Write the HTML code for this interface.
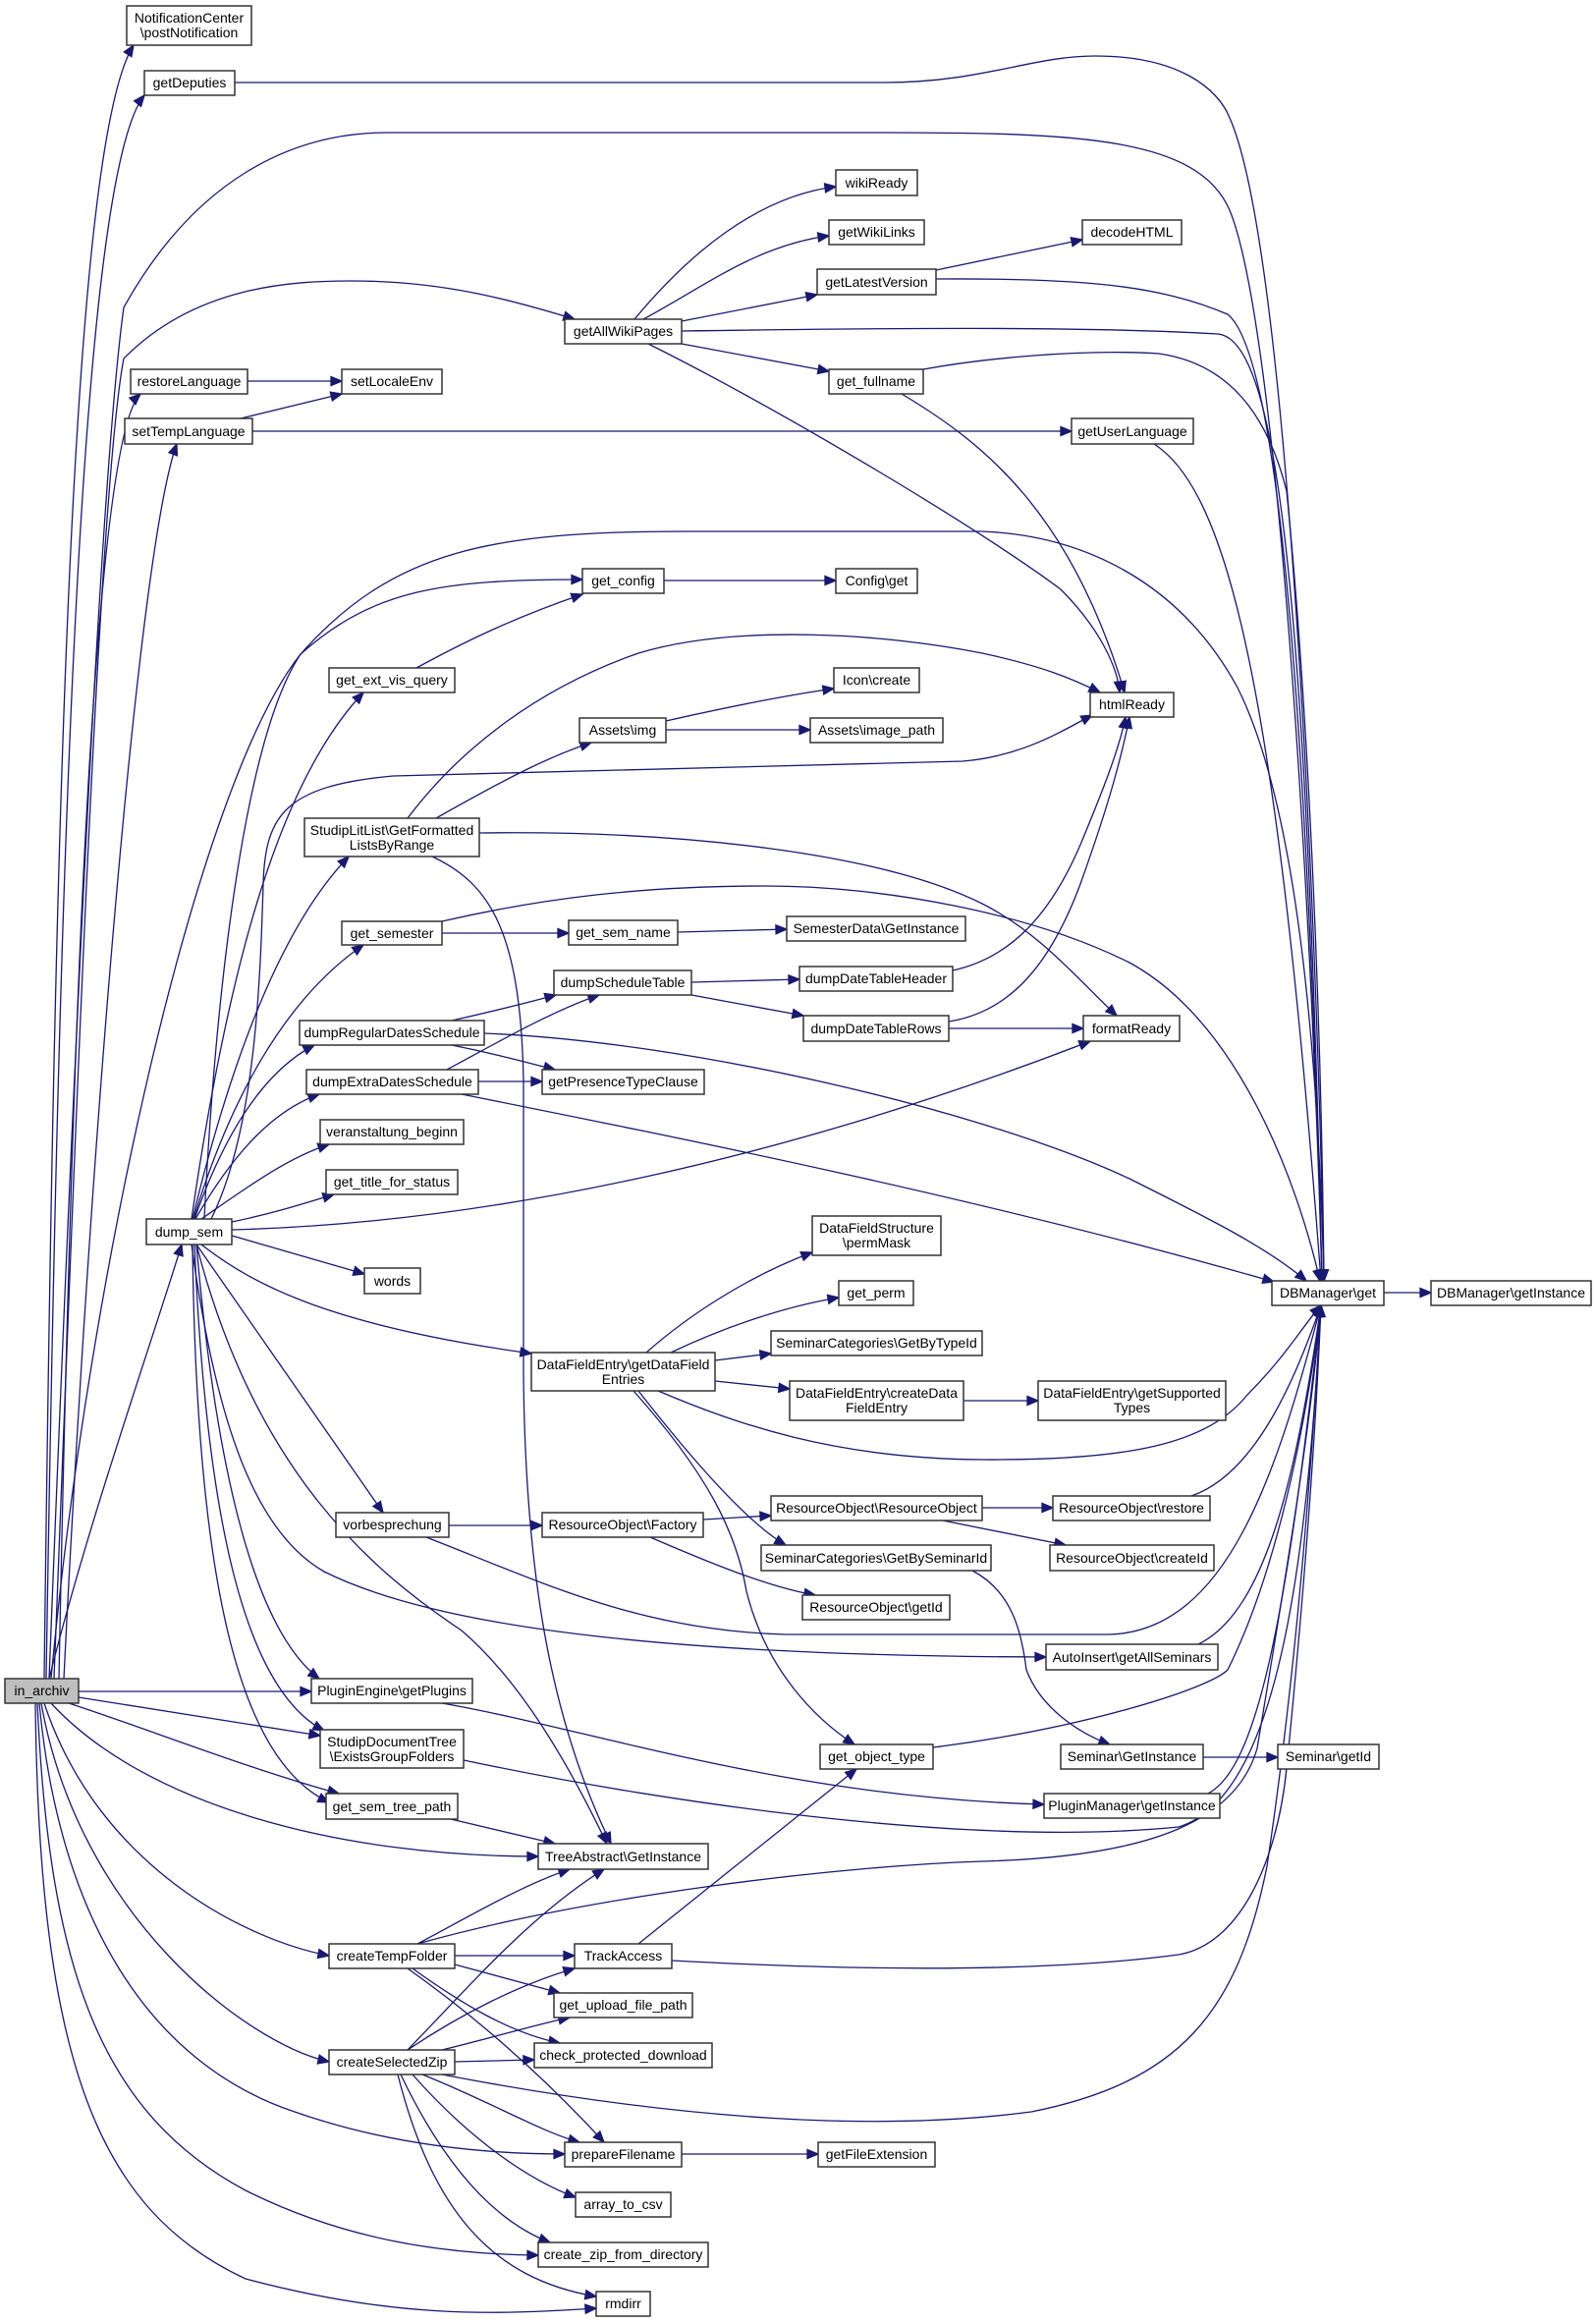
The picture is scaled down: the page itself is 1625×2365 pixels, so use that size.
<!DOCTYPE html>
<html><head><meta charset="utf-8"><style>
html,body{margin:0;padding:0;background:#fff}
svg{display:block}
svg text{font-family:"Liberation Sans",Arial,sans-serif;font-size:14px;fill:#000;text-anchor:middle}
svg rect{fill:#fff;stroke:#333;stroke-width:1.5}
</style></head><body>
<svg id="g" width="1625" height="2365" viewBox="0 0 1625 2365" xmlns="http://www.w3.org/2000/svg">
<g id="edges" fill="none" stroke="#191970" stroke-width="1.3"></g>
<g id="nodes">
<rect x="5" y="1709" width="75" height="25" style="fill:#bfbfbf"/><text x="42.5" y="1726">in_archiv</text>
<rect x="129" y="6" width="127" height="40"/><text x="192.5" y="23">NotificationCenter</text><text x="192.5" y="38">\postNotification</text>
<rect x="147" y="72" width="92" height="25"/><text x="193" y="89">getDeputies</text>
<rect x="133" y="376" width="119" height="25"/><text x="192.5" y="393">restoreLanguage</text>
<rect x="348" y="376" width="102" height="25"/><text x="399" y="393">setLocaleEnv</text>
<rect x="127" y="426" width="130" height="26"/><text x="192" y="444">setTempLanguage</text>
<rect x="575" y="325" width="119" height="25"/><text x="634.5" y="342">getAllWikiPages</text>
<rect x="851" y="173" width="83" height="26"/><text x="892.5" y="191">wikiReady</text>
<rect x="844" y="224" width="97" height="25"/><text x="892.5" y="241">getWikiLinks</text>
<rect x="832" y="274" width="121" height="26"/><text x="892.5" y="292">getLatestVersion</text>
<rect x="844" y="376" width="96" height="25"/><text x="892" y="393">get_fullname</text>
<rect x="1102" y="224" width="101" height="25"/><text x="1152.5" y="241">decodeHTML</text>
<rect x="1091" y="426" width="124" height="26"/><text x="1153" y="444">getUserLanguage</text>
<rect x="593" y="579" width="83" height="25"/><text x="634.5" y="596">get_config</text>
<rect x="851" y="579" width="83" height="25"/><text x="892.5" y="596">Config\get</text>
<rect x="335" y="680" width="128" height="25"/><text x="399" y="697">get_ext_vis_query</text>
<rect x="849" y="680" width="87" height="25"/><text x="892.5" y="697">Icon\create</text>
<rect x="1110" y="705" width="85" height="25"/><text x="1152.5" y="722">htmlReady</text>
<rect x="590" y="731" width="88" height="25"/><text x="634" y="748">Assets\img</text>
<rect x="825" y="731" width="135" height="25"/><text x="892.5" y="748">Assets\image_path</text>
<rect x="310" y="833" width="178" height="39"/><text x="399" y="850">StudipLitList\GetFormatted</text><text x="399" y="865">ListsByRange</text>
<rect x="348" y="938" width="102" height="24"/><text x="399" y="955">get_semester</text>
<rect x="579" y="937" width="111" height="25"/><text x="634.5" y="954">get_sem_name</text>
<rect x="801" y="933" width="182" height="25"/><text x="892" y="950">SemesterData\GetInstance</text>
<rect x="564" y="988" width="140" height="25"/><text x="634" y="1005">dumpScheduleTable</text>
<rect x="814" y="984" width="156" height="25"/><text x="892" y="1001">dumpDateTableHeader</text>
<rect x="305" y="1039" width="188" height="25"/><text x="399" y="1056">dumpRegularDatesSchedule</text>
<rect x="818" y="1034" width="148" height="26"/><text x="892" y="1052">dumpDateTableRows</text>
<rect x="1103" y="1034" width="98" height="26"/><text x="1152" y="1052">formatReady</text>
<rect x="552" y="1089" width="165" height="25"/><text x="634.5" y="1106">getPresenceTypeClause</text>
<rect x="312" y="1089" width="175" height="25"/><text x="399.5" y="1106">dumpExtraDatesSchedule</text>
<rect x="326" y="1140" width="146" height="25"/><text x="399" y="1157">veranstaltung_beginn</text>
<rect x="332" y="1191" width="134" height="25"/><text x="399" y="1208">get_title_for_status</text>
<rect x="149" y="1241" width="87" height="26"/><text x="192.5" y="1259">dump_sem</text>
<rect x="371" y="1291" width="57" height="26"/><text x="399.5" y="1309">words</text>
<rect x="827" y="1238" width="131" height="40"/><text x="892.5" y="1255">DataFieldStructure</text><text x="892.5" y="1270">\permMask</text>
<rect x="854" y="1304" width="76" height="25"/><text x="892" y="1321">get_perm</text>
<rect x="1295" y="1304" width="114" height="25"/><text x="1352" y="1321">DBManager\get</text>
<rect x="1457" y="1304" width="163" height="25"/><text x="1538.5" y="1321">DBManager\getInstance</text>
<rect x="785" y="1355" width="215" height="25"/><text x="892.5" y="1372">SeminarCategories\GetByTypeId</text>
<rect x="541" y="1377" width="187" height="39"/><text x="634.5" y="1394">DataFieldEntry\getDataField</text><text x="634.5" y="1409">Entries</text>
<rect x="804" y="1406" width="177" height="40"/><text x="892.5" y="1423">DataFieldEntry\createData</text><text x="892.5" y="1438">FieldEntry</text>
<rect x="1057" y="1406" width="191" height="40"/><text x="1152.5" y="1423">DataFieldEntry\getSupported</text><text x="1152.5" y="1438">Types</text>
<rect x="785" y="1523" width="215" height="25"/><text x="892.5" y="1540">ResourceObject\ResourceObject</text>
<rect x="1072" y="1523" width="160" height="25"/><text x="1152" y="1540">ResourceObject\restore</text>
<rect x="342" y="1540" width="115" height="25"/><text x="399.5" y="1557">vorbesprechung</text>
<rect x="552" y="1540" width="164" height="25"/><text x="634" y="1557">ResourceObject\Factory</text>
<rect x="775" y="1573" width="234" height="26"/><text x="892" y="1591">SeminarCategories\GetBySeminarId</text>
<rect x="1069" y="1573" width="167" height="26"/><text x="1152.5" y="1591">ResourceObject\createId</text>
<rect x="817" y="1624" width="150" height="25"/><text x="892" y="1641">ResourceObject\getId</text>
<rect x="1065" y="1674" width="175" height="26"/><text x="1152.5" y="1692">AutoInsert\getAllSeminars</text>
<rect x="317" y="1709" width="164" height="25"/><text x="399" y="1726">PluginEngine\getPlugins</text>
<rect x="326" y="1761" width="146" height="39"/><text x="399" y="1778">StudipDocumentTree</text><text x="399" y="1793">\ExistsGroupFolders</text>
<rect x="835" y="1776" width="115" height="25"/><text x="892.5" y="1793">get_object_type</text>
<rect x="1080" y="1776" width="145" height="25"/><text x="1152.5" y="1793">Seminar\GetInstance</text>
<rect x="1301" y="1776" width="103" height="25"/><text x="1352.5" y="1793">Seminar\getId</text>
<rect x="332" y="1826" width="134" height="26"/><text x="399" y="1844">get_sem_tree_path</text>
<rect x="1063" y="1826" width="179" height="25"/><text x="1152.5" y="1843">PluginManager\getInstance</text>
<rect x="548" y="1877" width="173" height="26"/><text x="634.5" y="1895">TreeAbstract\GetInstance</text>
<rect x="335" y="1979" width="128" height="25"/><text x="399" y="1996">createTempFolder</text>
<rect x="585" y="1979" width="99" height="25"/><text x="634.5" y="1996">TrackAccess</text>
<rect x="564" y="2029" width="141" height="25"/><text x="634.5" y="2046">get_upload_file_path</text>
<rect x="544" y="2080" width="181" height="25"/><text x="634.5" y="2097">check_protected_download</text>
<rect x="335" y="2087" width="128" height="25"/><text x="399" y="2104">createSelectedZip</text>
<rect x="575" y="2181" width="119" height="25"/><text x="634.5" y="2198">prepareFilename</text>
<rect x="833" y="2181" width="119" height="25"/><text x="892.5" y="2198">getFileExtension</text>
<rect x="586" y="2232" width="97" height="25"/><text x="634.5" y="2249">array_to_csv</text>
<rect x="548" y="2283" width="173" height="25"/><text x="634.5" y="2300">create_zip_from_directory</text>
<rect x="607" y="2333" width="55" height="25"/><text x="634.5" y="2350">rmdirr</text>
</g>
</svg>
<script>
var E=[
"M45,1709 C55,900 70,150 136,46",
"M47,1709 C60,900 80,180 147,97",
"M239,84 L900,84 C1000,84 1050,57 1115,57 C1200,57 1240,90 1252,120 C1310,250 1340,900 1348,1304",
"M50,1709 C70,1200 100,500 126,313 C200,180 300,135 394,135 L900,135 C1100,135 1220,140 1252,214 C1300,330 1335,900 1346,1304",
"M55,1709 C75,1200 100,500 126,365 C200,290 300,286 358,286 C450,286 520,305 585,325",
"M60,1709 C70,1200 90,450 143,401",
"M65,1709 C90,1200 140,560 180,452",
"M50,1709 C90,1550 150,1380 185,1267",
"M52,1709 C90,1300 200,800 306,666 C400,560 500,541 700,541 L1000,541 C1100,545 1200,590 1260,700 C1310,800 1340,1000 1348,1304",
"M208,1241 C220,1000 250,750 306,666 C380,600 450,590 593,590",
"M424,680 C470,655 520,630 593,605",
"M80,1722 L317,1722",
"M80,1728 L326,1767",
"M70,1734 C150,1760 250,1800 345,1826",
"M52,1734 C150,1840 350,1890 548,1890",
"M45,1734 C100,1900 250,1975 335,1991",
"M42,1734 C80,1950 250,2080 335,2099",
"M40,1734 C60,1950 150,2100 300,2150 C400,2185 500,2193 575,2193",
"M38,1734 C50,2000 100,2150 250,2230 C350,2280 450,2295 548,2296",
"M36,1734 C40,2100 100,2250 250,2320 C400,2360 500,2357 607,2350",
"M195,1241 C230,1000 280,800 370,705",
"M196,1241 C230,1100 280,950 355,872",
"M197,1241 C240,1100 300,1010 370,962",
"M198,1241 C230,1150 270,1090 320,1064",
"M199,1241 C240,1170 280,1130 325,1114",
"M205,1241 C250,1210 290,1180 335,1165",
"M236,1244 C280,1235 310,1225 340,1216",
"M236,1252 C500,1245 800,1180 1110,1060",
"M236,1258 L371,1297",
"M205,1267 C260,1310 340,1350 541,1378",
"M200,1267 L390,1540",
"M195,1267 C220,1450 260,1560 330,1600 C450,1660 700,1686 1065,1687",
"M215,1241 C260,1150 265,1000 268,900 C270,830 290,800 400,790 L980,775 C1040,770 1080,745 1112,728",
"M200,1267 C220,1500 260,1660 325,1709",
"M198,1267 C210,1550 250,1720 330,1762",
"M196,1267 C200,1600 240,1790 335,1835",
"M440,872 C500,900 530,950 533,1100 L533,1400 C535,1600 560,1750 622,1877",
"M200,1267 C260,1500 380,1600 470,1660 C540,1720 590,1820 618,1877",
"M252,388 L348,388",
"M245,426 L348,401",
"M257,439 L1091,439",
"M1175,452 C1250,500 1300,700 1345,1304",
"M646,325 C700,260 770,200 851,190",
"M655,325 C720,290 770,250 844,240",
"M694,327 L832,300",
"M694,350 L844,378",
"M660,350 C800,420 1000,540 1080,600 C1120,640 1138,680 1140,705",
"M694,337 C900,334 1100,332 1240,340 C1300,345 1330,600 1346,1304",
"M953,275 L1102,244",
"M953,284 C1100,283 1180,290 1250,320 C1300,360 1330,700 1346,1304",
"M940,376 C1000,365 1100,355 1180,360 C1250,370 1290,420 1310,500 C1330,700 1345,1000 1348,1304",
"M918,401 C1000,450 1090,520 1145,705",
"M676,591 L851,591",
"M415,833 C470,760 550,700 650,665 C750,635 900,645 1000,665 C1060,678 1090,690 1120,705",
"M444,833 C520,790 560,770 602,756",
"M488,848 C700,845 900,870 1000,920 C1060,950 1100,1000 1137,1034",
"M678,734 C740,720 800,708 849,701",
"M678,743 L825,743",
"M450,950 L579,950",
"M450,938 C550,915 650,902 780,902 C900,902 1050,930 1150,980 C1260,1040 1320,1200 1344,1304",
"M690,949 L801,946",
"M704,1000 L814,997",
"M704,1013 L818,1034",
"M970,988 C1030,975 1070,930 1100,860 C1125,800 1140,760 1146,730",
"M966,1040 C1030,1030 1070,980 1100,900 C1125,830 1140,780 1150,730",
"M966,1047 L1103,1047",
"M460,1039 C500,1030 540,1020 566,1013",
"M460,1064 C500,1072 530,1080 565,1089",
"M493,1052 C700,1060 1000,1130 1150,1200 C1230,1240 1290,1270 1330,1304",
"M455,1089 C500,1065 560,1030 610,1013",
"M487,1101 L552,1101",
"M470,1114 C700,1160 1000,1220 1297,1305",
"M658,1377 C700,1340 760,1300 827,1275",
"M683,1377 C740,1350 800,1330 854,1321",
"M728,1385 L785,1378",
"M728,1406 L804,1414",
"M670,1416 C750,1450 850,1485 1000,1486 C1150,1487 1230,1470 1270,1420 C1310,1380 1330,1345 1345,1329",
"M650,1416 C700,1480 760,1550 800,1573",
"M645,1416 C720,1500 750,1560 760,1620 C780,1700 830,1750 870,1776",
"M981,1426 L1057,1426",
"M716,1547 L785,1543",
"M662,1565 C720,1590 780,1615 830,1624",
"M457,1553 L552,1553",
"M434,1565 C550,1610 650,1660 800,1664 L1130,1664 C1250,1660 1300,1500 1345,1329",
"M1000,1535 L1072,1535",
"M960,1548 L1085,1573",
"M1213,1523 C1280,1500 1320,1400 1345,1329",
"M990,1599 C1030,1620 1040,1660 1045,1700 C1060,1740 1100,1765 1130,1776",
"M1220,1674 C1290,1640 1320,1500 1345,1329",
"M1225,1789 L1301,1789",
"M450,1734 C600,1760 800,1830 1063,1837",
"M472,1792 C700,1840 1000,1880 1200,1860 C1300,1830 1330,1600 1345,1329",
"M950,1779 C1100,1760 1230,1720 1250,1700 C1300,1600 1330,1450 1345,1329",
"M459,1852 L565,1877",
"M425,1979 C480,1950 530,1920 580,1903",
"M463,1991 L585,1991",
"M463,2000 L570,2029",
"M415,2004 C480,2050 550,2110 615,2181",
"M420,2004 C470,2040 520,2070 570,2080",
"M425,1979 C600,1930 850,1900 1000,1895 C1180,1890 1260,1850 1280,1780 C1310,1600 1335,1450 1345,1329",
"M415,2087 C480,2020 540,1950 615,1903",
"M415,2087 C470,2050 530,2020 585,2004",
"M450,2087 C500,2075 550,2060 580,2054",
"M463,2099 L544,2097",
"M430,2112 C500,2140 550,2170 590,2181",
"M420,2112 C480,2180 540,2220 586,2237",
"M408,2112 C450,2200 500,2260 560,2283",
"M405,2112 C440,2250 500,2320 607,2338",
"M450,2112 C700,2160 900,2170 1050,2150 C1200,2120 1260,2050 1290,1900 C1320,1700 1335,1500 1345,1329",
"M650,1979 L872,1801",
"M684,1996 C850,2005 1050,2010 1200,1990 C1260,1980 1300,1900 1310,1800 C1330,1600 1340,1450 1345,1329",
"M694,2193 L833,2193",
"M1409,1316 L1457,1316",
"M1230,1826 C1280,1800 1310,1650 1345,1329"
];
var g=document.getElementById('edges'),ns="http://www.w3.org/2000/svg",h="";
E.forEach(function(d){
 var n=d.match(/-?\d+(\.\d+)?/g).map(Number),L=n.length;
 var ex=n[L-2],ey=n[L-1],px=n[L-4],py=n[L-3];
 var dx=ex-px,dy=ey-py,len=Math.sqrt(dx*dx+dy*dy)||1;dx/=len;dy/=len;
 var al=11,aw=4.5,bx=ex-dx*al,by=ey-dy*al;
 h+='<path d="'+d+'"/>';
 h+='<polygon fill="#191970" stroke="#191970" points="'+ex+','+ey+' '+(bx-dy*aw)+','+(by+dx*aw)+' '+(bx+dy*aw)+','+(by-dx*aw)+'"/>';
});
g.innerHTML=h;
</script>
</body></html>
